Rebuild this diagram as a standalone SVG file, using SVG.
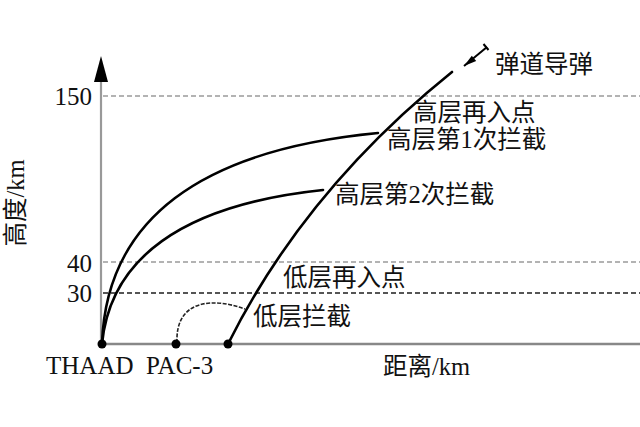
<svg xmlns="http://www.w3.org/2000/svg" width="640" height="427" viewBox="0 0 640 427">
<style>
.grid{stroke:#9a9a9a;stroke-width:1.5;stroke-dasharray:5 3;fill:none}
.grid30{stroke:#555;stroke-width:2;stroke-dasharray:5 3;fill:none}
.axis{stroke:#999;stroke-width:2.2;fill:none}
.curve{stroke:#000;stroke-width:2.6;fill:none;stroke-linecap:round}
.num{font-family:"Liberation Serif","Times New Roman",serif;font-size:25px;fill:#111}
.lab{font-family:"Liberation Serif","Noto Sans CJK SC",serif;font-size:24.5px;fill:#111}
</style>
<rect width="640" height="427" fill="#fff"/>
<g id="grid">
<line class="grid" x1="103" y1="96" x2="640" y2="96"/>
<line class="grid" x1="103" y1="262" x2="640" y2="262"/>
<line class="grid30" x1="103" y1="293" x2="640" y2="293"/>
</g>
<g id="axes">
<line class="axis" x1="101" y1="80" x2="101" y2="344"/>
<line class="axis" x1="101" y1="344" x2="640" y2="344" style="stroke:#888;stroke-width:2.5"/>
<polygon points="94,82 108,82 101,56" fill="#000"/>
</g>
<g id="ticks">
<text class="num" x="92" y="105" text-anchor="end">150</text>
<text class="num" x="92" y="272" text-anchor="end">40</text>
<text class="num" x="92" y="302" text-anchor="end">30</text>
</g>
<g id="connectors">
<path class="curve" d="M102,344 C106,220 200,150 378,133"/>
<path class="curve" d="M102,344 C110,260 180,205 323,190"/>
<path class="curve" d="M228,344 C265,270 330,170 452,72"/>
<path d="M177,343 C175,298 215,298 245,309" fill="none" stroke="#222" stroke-width="1.6" stroke-dasharray="4 1.5"/>
</g>
<g id="missile">
<line x1="464" y1="66" x2="487" y2="47" stroke="#000" stroke-width="2"/>
<polygon points="464,66 476.2,61.1 471.8,55.7" fill="#000"/>
<line x1="483.5" y1="44" x2="488.5" y2="50" stroke="#000" stroke-width="2"/>
</g>
<g id="sites">
<circle cx="102" cy="344" r="4.5" fill="#000"/>
<circle cx="176" cy="344" r="4.5" fill="#000"/>
<circle cx="228" cy="344" r="4.5" fill="#000"/>
<text class="num" x="46" y="374" style="font-size:25px">THAAD</text>
<text class="num" x="146" y="374" style="font-size:25px">PAC-3</text>
</g>
<g id="labels">
<text class="lab" x="495" y="73">弹道导弹</text>
<text class="lab" x="413" y="121">高层再入点</text>
<text class="lab" x="387" y="148">高层第1次拦截</text>
<text class="lab" x="335" y="203">高层第2次拦截</text>
<text class="lab" x="283" y="286">低层再入点</text>
<text class="lab" x="253" y="325">低层拦截</text>
<text class="lab" x="383" y="375">距离/km</text>
<text class="lab" transform="translate(24,203) rotate(-90)" text-anchor="middle">高度/km</text>
</g>
</svg>
